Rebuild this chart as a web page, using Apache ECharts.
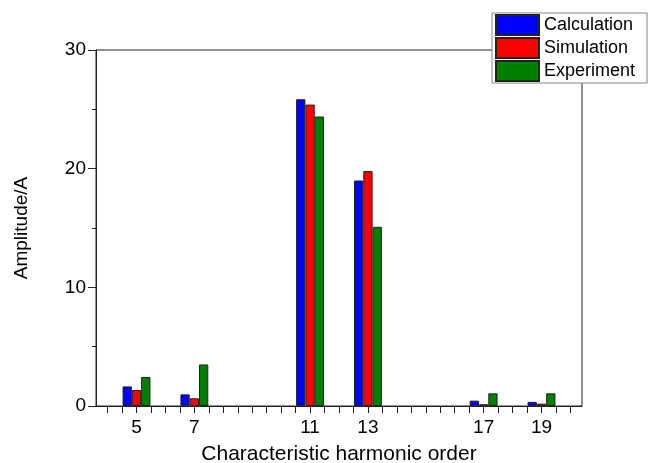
<!DOCTYPE html>
<html>
<head>
<meta charset="utf-8">
<script src="https://cdn.jsdelivr.net/npm/echarts@6/dist/echarts.min.js"></script>
<style>
html,body{margin:0;padding:0;background:#fff;}
#chart{width:658px;height:463px;}
</style>
</head>
<body>
<div id="chart"></div>
<script>
var harmonics = [5, 7, 11, 13, 17, 19];
var calculation = [1.65, 0.98, 25.85, 19.0, 0.45, 0.35];
var simulation = [1.35, 0.65, 25.4, 19.8, 0.15, 0.2];
var experiment = [2.45, 3.5, 24.4, 15.1, 1.07, 1.07];
var xTickValues = [4, 4.5, 5, 5.5, 6, 6.5, 7, 7.5, 8, 8.5, 9, 9.5, 10, 10.5, 11, 11.5, 12, 12.5, 13, 13.5, 14, 14.5, 15, 15.5, 16, 16.5, 17, 17.5, 18, 18.5, 19, 19.5, 20];
var xLabelValues = [5, 7, 11, 13, 17, 19];
var yTicks = [0, 10, 20, 30];

function pairs(vals) {
  return harmonics.map(function (h, i) { return [h, vals[i]]; });
}

var FONT = 'Liberation Sans, Arial, sans-serif';
var chart = echarts.init(document.getElementById('chart'), null, {renderer: 'canvas'});
var barStyle = function (c) {
  return {color: c, borderColor: '#222', borderWidth: 1};
};
chart.setOption({
  animation: false,
  backgroundColor: '#fff',
  grid: {
    left: 96, right: 76, top: 50, bottom: 57,
    outerBoundsMode: 'none', containLabel: false,
    show: true, borderColor: '#222', borderWidth: 1, backgroundColor: 'transparent'
  },
  legend: {
    orient: 'vertical',
    left: 492, top: 13,
    itemWidth: 43, itemHeight: 20, itemGap: 1,
    padding: [1, 12, 1, 3],
    backgroundColor: '#fff',
    borderColor: '#888', borderWidth: 1,
    icon: 'rect',
    textStyle: {fontFamily: FONT, fontSize: 18, lineHeight: 20, color: '#000'},
    data: ['Calculation', 'Simulation', 'Experiment']
  },
  xAxis: {
    type: 'value',
    min: 3.6, max: 20.4,
    name: 'Characteristic harmonic order',
    nameLocation: 'middle',
    nameGap: 38,
    nameTextStyle: {fontFamily: FONT, fontSize: 21, color: '#000'},
    axisLine: {show: true, onZero: false, lineStyle: {color: '#222', width: 1}},
    axisTick: {show: true, inside: false, length: 7, customValues: xTickValues, lineStyle: {color: '#222'}},
    axisLabel: {customValues: xLabelValues, margin: 12, fontFamily: FONT, fontSize: 19, color: '#000'},
    splitLine: {show: false}
  },
  yAxis: {
    type: 'value',
    min: 0, max: 30, interval: 10,
    name: 'Amplitude/A',
    nameLocation: 'middle',
    nameGap: 65,
    nameRotate: 90,
    nameTextStyle: {fontFamily: FONT, fontSize: 19, color: '#000'},
    axisLine: {show: true, lineStyle: {color: '#222', width: 1}},
    axisTick: {show: true, inside: false, length: 8, lineStyle: {color: '#222'}},
    minorTick: {show: true, splitNumber: 2, length: 4, lineStyle: {color: '#222'}},
    axisLabel: {margin: 10, fontFamily: FONT, fontSize: 19, color: '#000',
      formatter: function (v) { return yTicks.indexOf(v) >= 0 ? String(v) : ''; }},
    splitLine: {show: false}
  },
  series: [
    {name: 'Calculation', type: 'bar', barWidth: 9.3, barGap: '0%', data: pairs(calculation), itemStyle: barStyle('#0000ff')},
    {name: 'Simulation', type: 'bar', barWidth: 9.3, barGap: '0%', data: pairs(simulation), itemStyle: barStyle('#ff0000')},
    {name: 'Experiment', type: 'bar', barWidth: 9.3, barGap: '0%', data: pairs(experiment), itemStyle: barStyle('#008000')}
  ]
});
</script>
</body>
</html>
